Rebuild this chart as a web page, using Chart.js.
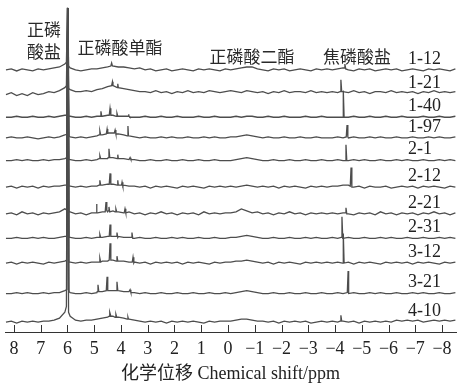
<!DOCTYPE html>
<html>
<head>
<meta charset="utf-8">
<script src="https://cdn.jsdelivr.net/npm/chart.js@4"></script>
<style>
  body { margin: 0; background: #fff; }
  #wrap { width: 458px; height: 392px; }
</style>
</head>
<body>
<div id="wrap"><canvas id="nmrChart"></canvas></div>
<script>
// DATA
// chemical shift grid (ppm) shared by all spectra
let ppm = [8.3, 8.1, 7.9, 7.7, 7.5, 7.3, 7.1, 6.9, 6.7, 6.5,
           6.3, 6.1, 5.9, 5.7, 5.5, 5.3, 5.1, 4.9, 4.7, 4.5,
           4.3, 4.1, 3.9, 3.7, 3.5, 3.3, 3.1, 2.9, 2.7, 2.5,
           2.3, 2.1, 1.9, 1.7, 1.5, 1.3, 1.1, 0.9, 0.7, 0.5,
           0.3, 0.1, -0.1, -0.3, -0.5, -0.7, -0.9, -1.1, -1.3, -1.5,
           -1.7, -1.9, -2.1, -2.3, -2.5, -2.7, -2.9, -3.1, -3.3, -3.5,
           -3.7, -3.9, -4.1, -4.3, -4.5, -4.7, -4.9, -5.1, -5.3, -5.5,
           -5.7, -5.9, -6.1, -6.3, -6.5, -6.7, -6.9, -7.1, -7.3, -7.5,
           -7.7, -7.9, -8.1, -8.3, -8.5];

let sampleNames = ['1-12', '1-21', '1-40', '1-97', '2-1', '2-12', '2-21', '2-31', '3-12', '3-21', '4-10'];
// vertical stacking of each spectrum
let stackOffsets = [266, 241, 218, 197, 174, 147, 120, 95, 70, 39, 10];
let xTicks = [8, 7, 6, 5, 4, 3, 2, 1, 0, -1, -2, -3, -4, -5, -6, -7, -8];
let groupNames = ['正磷', '酸盐', '正磷酸单酯', '正磷酸二酯', '焦磷酸盐'];
let xTitle = '化学位移 Chemical shift/ppm';

// baseline intensity on the ppm grid
let trace_1_12 = [0,1,-1,1,0,-1,1,0,1,2, 3,6,2,0,-1,0,1,1,2,3, 4,3,3,2,1,2,0,1,-1,0, 1,-1,0,1,0,-1,1,0,1,0,
                  -1,1,0,1,2,3,3,1,0,-1, 1,0,1,-1,0,1,0,-1,1,0, 1,0,1,2,0,-1,1,0,1,-1, 0,1,0,1,-1,0,1,0,-1,1, 0,1,0,-1,1];
let trace_1_21 = [0,2,-1,1,-1,2,0,1,3,2, 4,7,5,3,3,4,3,5,6,8, 9,7,6,5,4,3,3,2,4,2, 3,1,3,2,4,2,3,2,4,3,
                  2,3,4,3,2,4,3,2,3,1, 3,2,4,2,3,3,2,4,2,3, 2,3,2,3,2,4,2,3,1,3, 3,2,4,2,3,2,3,1,3,2, 4,2,3,2,3];
let trace_1_40 = [0,0,1,0,0,1,0,0,1,0, 1,2,1,0,0,1,0,1,1,2, 2,1,1,1,0,0,1,0,0,1, 0,0,1,0,0,0,1,0,0,1,
                  0,0,0,1,0,1,1,0,0,1, 0,0,1,0,0,0,1,0,0,1, 0,0,0,0,0,1,0,0,1,0, 0,1,0,0,1,0,0,0,1,0, 0,1,0,0,1];
let trace_1_97 = [0,1,0,0,1,0,-1,0,1,0, 1,3,1,0,1,0,1,2,3,4, 5,4,3,2,1,0,1,0,0,1, 0,1,0,0,1,0,0,1,0,1,
                  0,0,1,1,2,3,2,1,0,1, 0,0,1,0,0,1,0,0,1,0, 0,0,1,0,0,1,0,0,1,0, 1,0,0,1,0,0,1,0,0,1, 0,1,0,0,1];
let trace_2_1 = [0,0,1,0,1,0,0,1,0,1, 1,2,1,0,0,1,0,1,2,2, 3,2,2,1,1,0,0,1,0,0, 1,0,0,1,0,0,1,0,0,1,
                 0,0,0,1,2,3,2,1,0,0, 1,0,0,1,0,0,1,0,0,1, 0,0,1,0,0,1,0,1,0,0, 1,0,0,1,0,1,0,0,1,0, 0,1,0,1,0];
let trace_2_12 = [0,1,-1,1,0,1,-1,1,0,1, 1,2,1,0,1,0,1,1,2,3, 3,2,2,1,1,0,1,-1,1,0, 1,0,-1,1,0,1,0,-1,1,0,
                  1,0,1,0,1,2,1,0,1,0, 1,-1,1,0,1,0,-1,1,0,1, 0,1,1,2,2,0,1,-1,1,0, 0,1,-1,0,1,0,1,-1,1,0, 1,0,-1,1,0];
let trace_2_21 = [0,1,-1,2,0,1,-1,1,0,1, 2,5,2,0,1,-1,1,1,2,2, 3,2,1,2,0,1,-1,1,0,2, 0,1,-1,1,0,1,-1,2,0,1,
                  0,1,1,2,5,3,1,2,0,1, -1,1,0,2,0,1,-1,1,0,1, 0,1,0,1,0,-1,1,0,1,-1, 2,0,1,-1,1,0,1,-1,1,0, 2,0,1,-1,1];
let trace_2_31 = [0,0,1,0,0,1,0,1,0,0, 1,2,1,0,0,1,0,1,1,2, 2,2,1,1,0,1,0,0,1,0, 0,1,0,1,0,0,1,0,0,1,
                  0,0,1,1,2,3,2,1,0,0, 1,0,0,1,0,0,1,0,1,0, 0,1,0,0,1,0,0,1,0,0, 1,0,1,0,0,1,0,0,1,0, 0,1,0,1,0];
let trace_3_12 = [0,1,-1,1,0,1,0,-1,1,0, 1,2,1,0,1,0,1,1,2,2, 3,2,2,1,1,0,1,-1,1,0, 1,0,1,-1,1,0,1,0,-1,1,
                  0,1,1,2,2,3,2,1,0,1, -1,1,0,1,0,-1,1,0,1,0, 1,0,1,0,1,-1,1,0,1,0, -1,1,0,1,0,1,-1,1,0,1, 0,-1,1,0,1];
let trace_3_21 = [0,0,1,0,1,0,0,1,0,1, 1,3,1,0,0,1,0,1,2,3, 3,3,2,2,1,0,1,0,0,1, 0,0,1,0,0,1,0,0,1,0,
                  0,1,0,1,2,3,2,1,0,0, 1,0,0,1,0,0,1,0,0,1, 0,0,1,0,0,1,0,0,1,0, 1,0,0,1,0,0,1,0,1,0, 0,1,0,0,1];
let trace_4_10 = [0,1,-1,1,0,1,0,1,1,2, 4,10,6,2,1,2,2,3,4,5, 6,5,4,3,2,1,0,1,0,1, -1,1,0,1,0,1,0,-1,1,0,
                  1,1,1,2,3,3,2,1,1,0, 1,-1,1,0,1,0,1,-1,0,1, 0,1,0,1,0,1,-1,1,0,1, 0,1,0,2,1,2,1,2,0,1, 2,1,2,1,2];

// sharp resonances [ppm, intensity]
let spikes_1_12 = [[6.04, 8], [6.00, 63], [5.96, 4], [4.38, 4], [4.35, 7], [4.32, 4],
                   [-4.34, 2], [-4.37, 6], [-4.40, 1]];
let spikes_1_21 = [[6.04, 9], [6.00, 88], [5.96, 6], [4.35, 9], [4.32, 13], [4.29, 9],
                   [4.14, 7], [4.12, 11], [4.08, 7], [-4.19, 3], [-4.22, 15], [-4.25, 3]];
let spikes_1_40 = [[6.02, 2], [5.99, 111], [5.96, 1], [4.78, 1], [4.75, 6], [4.72, 1],
                   [4.44, 2], [4.41, 9], [4.38, 2], [4.18, 1], [4.15, 4], [4.12, 1],
                   [3.73, 1], [3.71, 3], [3.67, 0], [-4.28, 0], [-4.31, 27], [-4.34, 0]];
let spikes_1_97 = [[6.02, 4], [5.98, 132], [5.94, 2], [4.82, 3], [4.79, 7], [4.76, 3],
                   [4.55, 4], [4.52, 9], [4.49, 5], [4.25, 5], [4.22, 8], [4.19, 4],
                   [3.77, 2], [3.74, 12], [3.72, 2], [-4.42, 1], [-4.45, 13], [-4.48, 1]];
let spikes_2_1 = [[6.02, 3], [5.99, 155], [5.95, 1], [4.82, 2], [4.79, 5], [4.76, 2],
                  [4.48, 3], [4.45, 12], [4.42, 3], [4.14, 2], [4.12, 6], [4.08, 2],
                  [3.69, 1], [3.66, 3], [3.63, 1], [-4.38, 0], [-4.41, 16], [-4.44, 0]];
let spikes_2_12 = [[6.03, 2], [5.99, 182], [5.95, 1], [4.82, 2], [4.79, 7], [4.76, 2],
                   [4.44, 3], [4.41, 14], [4.38, 3], [4.14, 2], [4.12, 7], [4.08, 2],
                   [3.98, 2], [3.96, 5], [3.93, 1], [-4.57, 1], [-4.60, 20], [-4.63, 0]];
let spikes_2_21 = [[6.03, 4], [5.99, 209], [5.95, 2], [4.93, 1], [4.91, 10], [4.87, 1],
                   [4.59, 2], [4.56, 12], [4.53, 3], [4.48, 3], [4.45, 7], [4.42, 2],
                   [4.22, 2], [4.19, 5], [4.16, 2], [3.88, 1], [3.85, 5], [3.82, 1],
                   [-4.38, 1], [-4.41, 6], [-4.44, 0]];
let spikes_2_31 = [[6.02, 2], [5.98, 234], [5.94, 1], [4.82, 1], [4.79, 4], [4.76, 1],
                   [4.44, 2], [4.41, 14], [4.38, 2], [4.18, 2], [4.15, 6], [4.12, 1],
                   [3.62, 1], [3.59, 6], [3.56, 0], [-4.23, 1], [-4.26, 22], [-4.29, 0]];
let spikes_3_12 = [[6.03, 3], [5.99, 259], [5.95, 1], [4.82, 1], [4.79, 5], [4.76, 1],
                   [4.44, 3], [4.41, 20], [4.38, 3], [4.18, 2], [4.15, 7], [4.12, 2],
                   [3.58, 1], [3.55, 6], [3.52, 0], [-4.28, 0], [-4.31, 30], [-4.34, 0]];
let spikes_3_21 = [[6.02, 4], [5.98, 290], [5.94, 2], [4.89, 2], [4.86, 9], [4.83, 2],
                   [4.55, 3], [4.52, 17], [4.49, 3], [4.18, 3], [4.15, 12], [4.12, 3],
                   [3.69, 2], [3.66, 4], [3.63, 1], [-4.46, 1], [-4.49, 23], [-4.52, 0]];
let spikes_4_10 = [[6.04, 16], [6.00, 319], [5.96, 10], [4.44, 6], [4.42, 10], [4.38, 6],
                   [4.22, 5], [4.19, 8], [4.16, 5], [3.77, 3], [3.74, 5], [3.72, 3],
                   [-4.19, 1], [-4.22, 7], [-4.25, 1]];

let traces = [trace_1_12, trace_1_21, trace_1_40, trace_1_97, trace_2_1, trace_2_12,
              trace_2_21, trace_2_31, trace_3_12, trace_3_21, trace_4_10];
let spikes = [spikes_1_12, spikes_1_21, spikes_1_40, spikes_1_97, spikes_2_1, spikes_2_12,
              spikes_2_21, spikes_2_31, spikes_3_12, spikes_3_21, spikes_4_10];

let serif = "'Liberation Serif', 'Times New Roman', 'Noto Sans CJK SC', serif";
let cjk = "'Noto Sans CJK SC', sans-serif";

// build datasets
let datasets = [];
for (let i = 0; i < traces.length; i++) {
    let off = stackOffsets[i];
    let pts = [];
    for (let j = 0; j < ppm.length; j++) {
        pts.push({ x: ppm[j], y: off + traces[i][j] });
    }
    spikes[i].forEach(s => pts.push({ x: s[0], y: off + s[1] }));
    pts.sort((a, b) => b.x - a.x);
    datasets.push({
        label: sampleNames[i],
        data: pts,
        borderColor: '#4d4d4d',
        borderWidth: 1.3,
        pointRadius: 0,
        tension: 0,
        fill: false
    });
}

// ticks pointing up into the plot
const innerTicks = {
    id: 'innerTicks',
    afterDraw(chart) {
        let ctx = chart.ctx, xs = chart.scales.x, y0 = xs.top;
        ctx.save();
        ctx.strokeStyle = '#333';
        ctx.lineWidth = 1;
        xs.ticks.forEach(t => {
            let px = Math.round(xs.getPixelForValue(t.value)) + 0.5;
            ctx.beginPath();
            ctx.moveTo(px, y0);
            ctx.lineTo(px, y0 - 7);
            ctx.stroke();
        });
        ctx.restore();
    }
};

// sample names and peak group labels
const textLabels = {
    id: 'textLabels',
    afterDatasetsDraw(chart) {
        let ctx = chart.ctx, xs = chart.scales.x, ys = chart.scales.y;
        ctx.save();
        ctx.fillStyle = '#222';
        ctx.textBaseline = 'middle';
        ctx.font = '18px ' + serif;
        ctx.textAlign = 'left';
        sampleNames.forEach((name, i) => {
            ctx.fillText(name, xs.getPixelForValue(-6.73), ys.getPixelForValue(stackOffsets[i] + 11));
        });
        ctx.font = '17px ' + cjk;
        ctx.fillStyle = '#2a2a2a';
        ctx.textAlign = 'center';
        ctx.fillText(groupNames[0], xs.getPixelForValue(6.88), ys.getPixelForValue(307));
        ctx.fillText(groupNames[1], xs.getPixelForValue(6.88), ys.getPixelForValue(285));
        ctx.fillText(groupNames[2], xs.getPixelForValue(4.04), ys.getPixelForValue(289));
        ctx.fillText(groupNames[3], xs.getPixelForValue(-0.90), ys.getPixelForValue(280));
        ctx.fillText(groupNames[4], xs.getPixelForValue(-4.82), ys.getPixelForValue(280));
        ctx.restore();
    }
};

let nmrCtx = document.getElementById('nmrChart').getContext('2d');
let nmrChart = new Chart(nmrCtx, {
    type: 'line',
    data: { datasets: datasets },
    options: {
        responsive: true,
        maintainAspectRatio: false,
        animation: false,
        layout: { padding: { left: 5, right: 2, top: 0, bottom: 9.6 } },
        plugins: { legend: { display: false }, tooltip: { enabled: false } },
        scales: {
            x: {
                type: 'linear',
                reverse: true,
                min: -8.523,
                max: 8.336,
                afterBuildTicks: (scale) => { scale.ticks = xTicks.map(v => ({ value: v })); },
                grid: { drawOnChartArea: false, drawTicks: false },
                border: { display: true, color: '#333', width: 1 },
                ticks: {
                    padding: 6,
                    color: '#222',
                    maxRotation: 0,
                    autoSkip: false,
                    font: { family: serif, size: 18 },
                    callback: (v) => v < 0 ? '\u2212' + Math.abs(v) : String(v)
                },
                title: {
                    display: true,
                    text: xTitle,
                    color: '#222',
                    padding: { top: 0, bottom: 0 },
                    font: { family: serif, size: 18, lineHeight: 0.933 }
                }
            },
            y: { display: false, min: 0, max: 337 }
        }
    },
    plugins: [innerTicks, textLabels]
});
</script>
</body>
</html>
